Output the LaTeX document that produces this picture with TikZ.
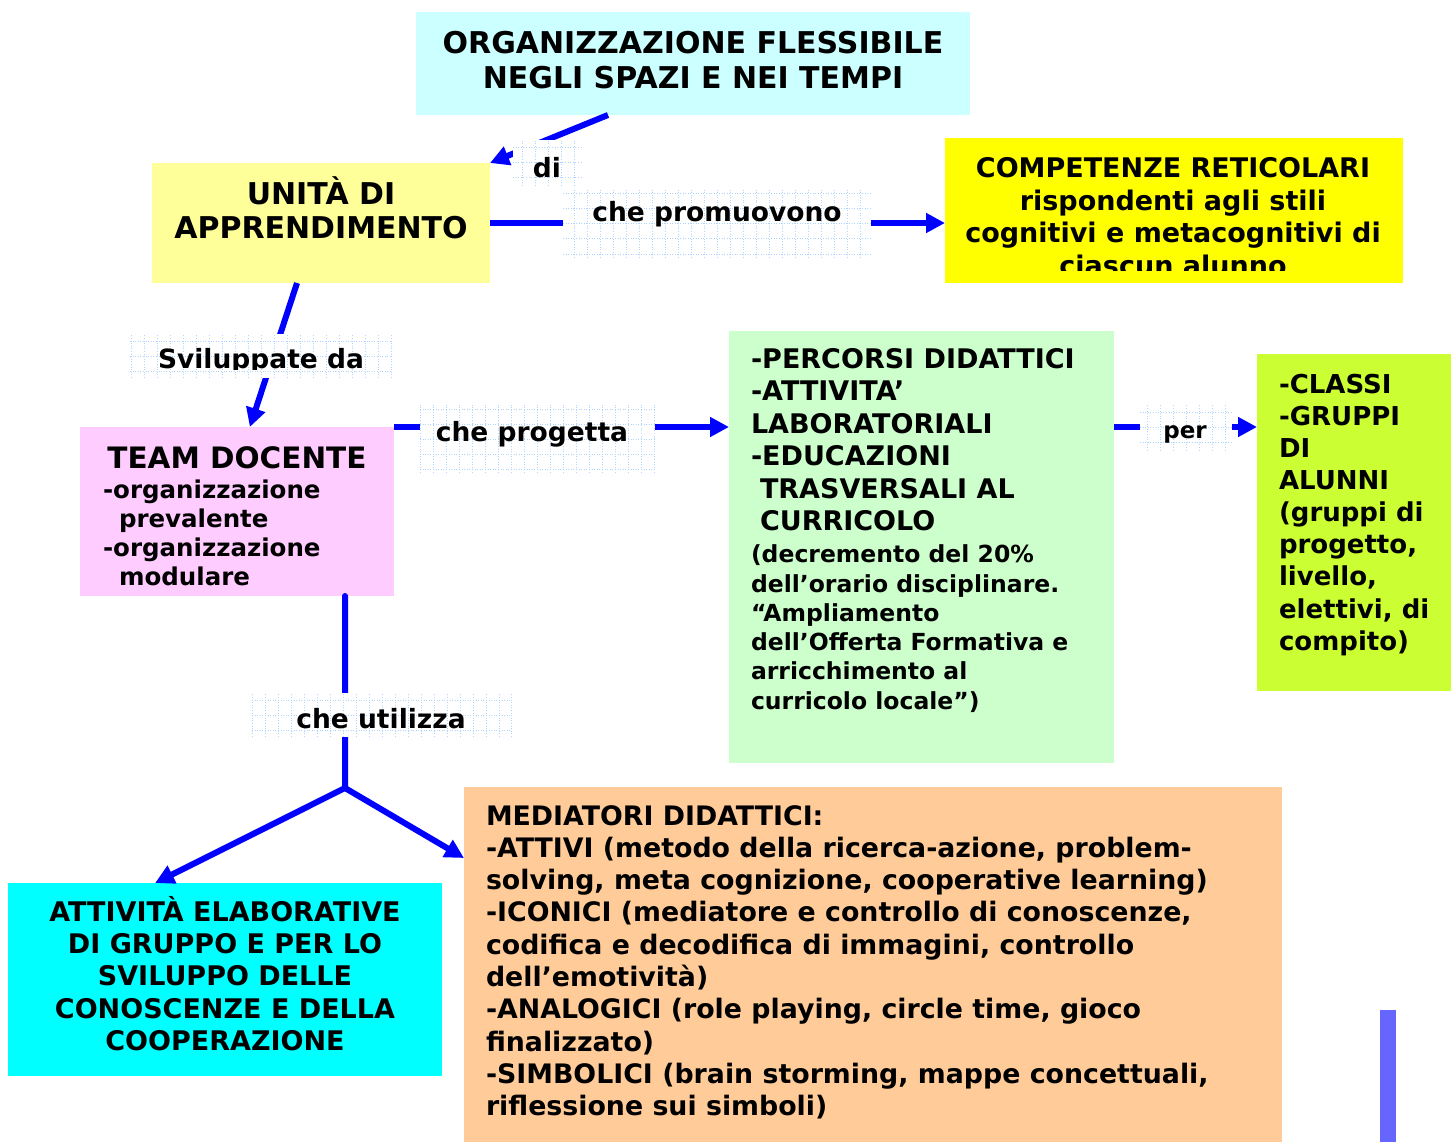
\documentclass[tikz,border=0pt]{standalone}
\usepackage{fontspec}
\setmainfont{DejaVu Sans}
\usetikzlibrary{arrows.meta,calc}
\definecolor{cTop}{HTML}{CCFFFF}
\definecolor{cUnita}{HTML}{FFFF99}
\definecolor{cComp}{HTML}{FFFF00}
\definecolor{cTeam}{HTML}{FFCCFF}
\definecolor{cPerc}{HTML}{CCFFCC}
\definecolor{cClassi}{HTML}{CCFF33}
\definecolor{cAttiv}{HTML}{00FFFF}
\definecolor{cMedi}{HTML}{FFCC99}
\definecolor{cBar}{HTML}{6666FF}
\definecolor{cLine}{HTML}{0000FF}
\definecolor{cGrid}{RGB}{175,212,255}
\begin{document}
\begin{tikzpicture}[x=1pt,y=-1pt,
  box/.style={inner sep=0pt,outer sep=0pt,draw=none},
  tx/.style={inner sep=0pt,outer sep=0pt},
  gridln/.style={draw=cGrid,line width=1pt,dash pattern=on 1pt off 1.6pt},
  lbl/.style={box,fill=white,path picture={\draw[gridln] (path picture bounding box.south west) grid[xstep=13pt,ystep=15pt] (path picture bounding box.north east);}},
  lt/.style={tx,anchor=base,font=\fontsize{26.5}{32}\selectfont\bfseries},
  conn/.style={draw=cLine,line width=6pt,-{Triangle[length=19pt,width=19pt]}}
]
\useasboundingbox (0,0) rectangle (1451,1142);

% boxes
\node[box,fill=cTop,minimum width=554,minimum height=103] (org) at (693,63.5) {};
\node[box,fill=cUnita,minimum width=338,minimum height=120] (unita) at (321,223) {};
\node[box,fill=cComp,minimum width=458,minimum height=145] (comp) at (1174,210.5) {};
\node[box,fill=cTeam,minimum width=314,minimum height=169] (team) at (237,511.5) {};
\node[box,fill=cPerc,minimum width=385,minimum height=432] (perc) at (921.5,547) {};
\node[box,fill=cClassi,minimum width=194,minimum height=337] (classi) at (1354,522.5) {};
\node[box,fill=cAttiv,minimum width=434,minimum height=193] (attiv) at (225,979.5) {};
\node[box,fill=cMedi,minimum width=818,minimum height=355] (medi) at (873,964.5) {};
\node[box,fill=cBar,minimum width=16,minimum height=132] (bar) at (1388,1076) {};

% connectors
\draw[conn] ($(org.south west)!0.3466!(org.south east)$) -- (unita.north east);
\draw[conn] (unita.east) -- (unita.east -| comp.west);
\draw[conn] ($(unita.south west)!0.429!(unita.south east)$) -- ($(team.north west)!0.541!(team.north east)$);
\draw[conn] (team.north east) -- (team.north east -| perc.west);
\draw[conn] (team.north east -| perc.east) -- (team.north east -| classi.west);
\coordinate (split) at (345,788);
\draw[conn,line cap=round] ($(team.south west)!0.844!(team.south east)$) -- (split) -- ($(attiv.north west)!0.339!(attiv.north east)$);
\draw[conn,line cap=round] (split) -- ($(medi.north west)!0.2!(medi.south west)$);

% label boxes
\node[lbl,minimum width=70,minimum height=46] (ldi) at (548,163) {};
\node[lbl,minimum width=308,minimum height=68] (lprom) at (717,224) {};
\node[lbl,minimum width=262,minimum height=44] (lsvil) at (261,356) {};
\node[lbl,minimum width=235,minimum height=68] (lprog) at (537.5,439) {};
\node[lbl,minimum width=92,minimum height=46] (lper) at (1186,427.5) {};
\node[lbl,minimum width=260,minimum height=44] (lutil) at (382,715) {};

% label texts
\node[lt] (tdi) at (547,178) {di};
\node[lt] (tprom) at (717,222) {che promuovono};
\begin{scope}
\clip (130,334) rectangle (392,369);
\node[lt] (tsvil) at (261,368) {Sviluppate da};
\end{scope}
\node[lt] (tprog) at (532,441) {che progetta};
\node[lt,font=\fontsize{23}{28}\selectfont\bfseries] (tper) at (1185,438) {per};
\node[lt] (tutil) at (381,728) {che utilizza};

% box texts
\node[tx,anchor=north,align=center,font=\fontsize{30}{35}\selectfont\bfseries] (torg) at (693,26)
  {\rule{0pt}{28pt}ORGANIZZAZIONE FLESSIBILE\\NEGLI SPAZI E NEI TEMPI};
\node[tx,anchor=north,align=center,font=\fontsize{30}{35}\selectfont\bfseries] (tunita) at (321,176)
  {\rule{0pt}{28pt}UNITÀ DI\\APPRENDIMENTO};
\begin{scope}
\clip (945,138) rectangle (1403,270);
\node[tx,anchor=north,align=center,font=\fontsize{27}{32.5}\selectfont\bfseries] (tcomp) at (1173,151.7)
  {\rule{0pt}{26pt}COMPETENZE RETICOLARI\\rispondenti agli stili\\cognitivi e metacognitivi di\\ciascun alunno};
\end{scope}
\node[tx,anchor=base,font=\fontsize{29.5}{35}\selectfont\bfseries] (tteam) at (237,468.3) {TEAM DOCENTE};
\node[tx,anchor=north west,align=left,font=\fontsize{24.5}{29}\selectfont\bfseries] (tteamsub) at (103,475.1)
  {\rule{0pt}{23.2pt}-organizzazione\\\hspace*{16pt}prevalente\\-organizzazione\\\hspace*{16pt}modulare};
\node[tx,anchor=north west,align=left,font=\fontsize{27}{32.5}\selectfont\bfseries] (tperc) at (751,342.3)
  {\rule{0pt}{26pt}-PERCORSI DIDATTICI\\-ATTIVITA’\\LABORATORIALI\\-EDUCAZIONI\\\hspace*{9pt}TRASVERSALI AL\\\hspace*{9pt}CURRICOLO};
\node[tx,anchor=north west,align=left,font=\fontsize{23.5}{29.3}\selectfont\bfseries] (tpercsub) at (751,539.3)
  {\rule{0pt}{23.4pt}(decremento del 20\%\\dell’orario disciplinare.\\“Ampliamento\\dell’Offerta Formativa e\\arricchimento al\\curricolo locale”)};
\node[tx,anchor=north west,align=left,font=\fontsize{26}{32.1}\selectfont\bfseries] (tclassi) at (1279,367.6)
  {\rule{0pt}{25.7pt}-CLASSI\\-GRUPPI\\DI\\ALUNNI\\(gruppi di\\progetto,\\livello,\\elettivi, di\\compito)};
\node[tx,anchor=north,align=center,font=\fontsize{27}{32.1}\selectfont\bfseries] (tattiv) at (225,896)
  {\rule{0pt}{25.7pt}ATTIVITÀ ELABORATIVE\\DI GRUPPO E PER LO\\SVILUPPO DELLE\\CONOSCENZE E DELLA\\COOPERAZIONE};
\node[tx,anchor=north west,align=left,font=\fontsize{26.8}{32.3}\selectfont\bfseries] (tmedi) at (486,799.2)
  {\rule{0pt}{25.8pt}MEDIATORI DIDATTICI:\\-ATTIVI (metodo della ricerca-azione, problem-\\solving, meta cognizione, cooperative learning)\\-ICONICI (mediatore e controllo di conoscenze,\\codifica e decodifica di immagini, controllo\\dell’emotività)\\-ANALOGICI (role playing, circle time, gioco\\finalizzato)\\-SIMBOLICI (brain storming, mappe concettuali,\\riflessione sui simboli)};
\end{tikzpicture}
\end{document}
